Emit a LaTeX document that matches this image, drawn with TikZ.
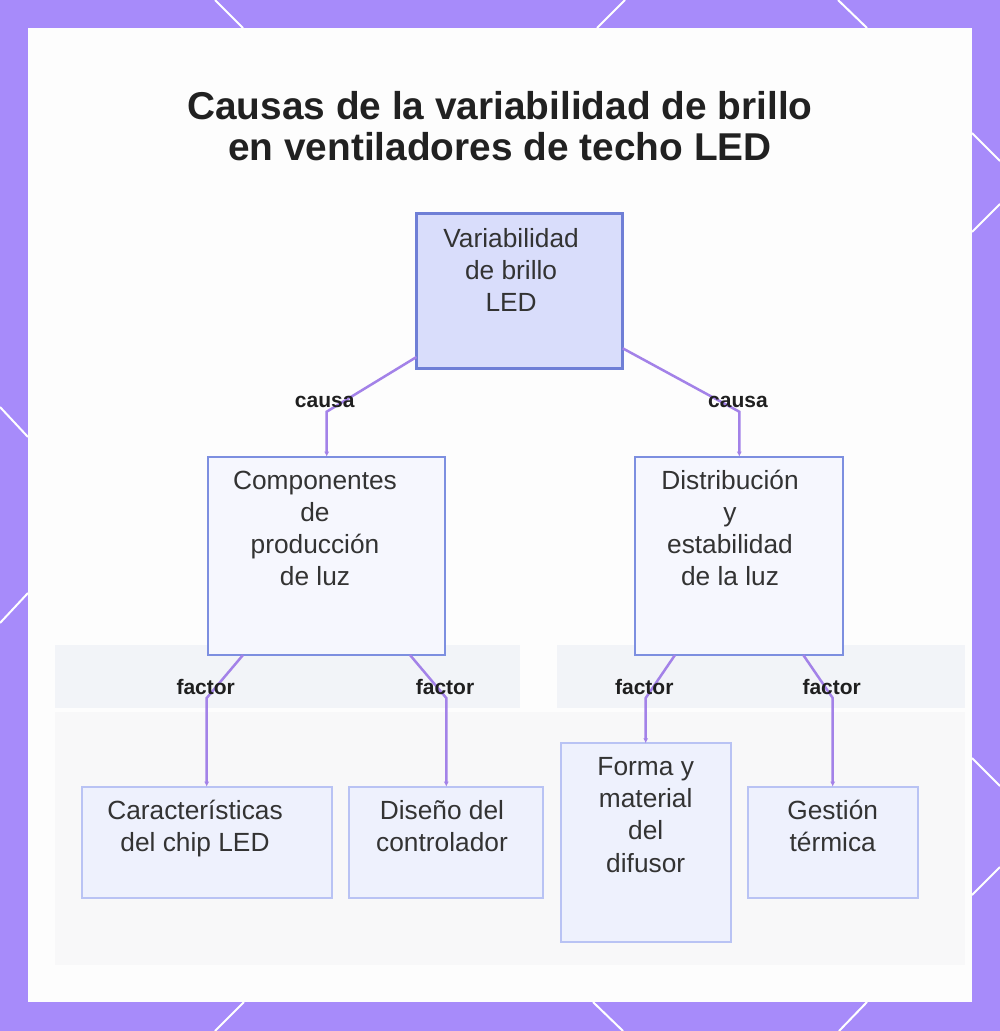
\documentclass[tikz,border=0pt]{standalone}
\usepackage{fontspec}
\setmainfont{Liberation Sans}
\usetikzlibrary{arrows.meta,calc}
\definecolor{frame}{HTML}{A78BFA}
\definecolor{panel}{HTML}{FDFDFD}
\definecolor{titlec}{HTML}{212121}
\definecolor{txt}{HTML}{333333}
\definecolor{fA}{HTML}{D9DDFB}
\definecolor{bA}{HTML}{6F7FD6}
\definecolor{fB}{HTML}{F6F7FE}
\definecolor{bB}{HTML}{7D8FE0}
\definecolor{fC}{HTML}{EEF1FD}
\definecolor{bC}{HTML}{B9C3F4}
\definecolor{ec}{HTML}{A382E8}
\definecolor{lblc}{HTML}{1F1F1F}
\definecolor{bandc}{HTML}{F2F4F8}
\definecolor{softc}{HTML}{F8F8F9}
% width, height, first-baseline offset, left shift*2, baselineskip, text
\newcommand{\bxt}[6]{\begin{minipage}[c][#2pt][t]{#1pt}\centering\rightskip=#4pt plus 1fil\relax\parindent=0pt\baselineskip=#5pt\relax\vspace*{\dimexpr#3pt-30pt\relax}\rule{0pt}{30pt}#6\par\end{minipage}}
\tikzset{
  lvlA/.style={draw=bA, fill=fA, line width=2.5pt, inner sep=0pt, outer sep=0pt, text=txt, font=\fontsize{26.3pt}{32pt}\selectfont},
  lvlB/.style={draw=bB, fill=fB, line width=2pt, inner sep=0pt, outer sep=0pt, text=txt, font=\fontsize{26.3pt}{32pt}\selectfont},
  lvlC/.style={draw=bC, fill=fC, line width=2pt, inner sep=0pt, outer sep=0pt, text=txt, font=\fontsize{26.3pt}{32pt}\selectfont},
  edge/.style={draw=ec, line width=2.5pt, -{Latex[length=5pt,width=5pt]}},
  lbl/.style={font=\bfseries\fontsize{21pt}{24pt}\selectfont, text=lblc, inner sep=0pt},
  titlestyle/.style={inner sep=0pt, text=titlec, font=\bfseries\fontsize{38.8pt}{41pt}\selectfont},
  frameline/.style={draw=white, line width=2pt}
}
\begin{document}
\begin{tikzpicture}[x=1pt,y=-1pt]
\useasboundingbox (0,0) rectangle (1000,1031);
\fill[frame] (0,0) rectangle (1000,1031);
% decorative white lines in the frame
\draw[frameline] (215,0) -- (243,28);
\draw[frameline] (625,0) -- (597,28);
\draw[frameline] (838,0) -- (867,28);
\draw[frameline] (972,133) -- (1000,161);
\draw[frameline] (972,232) -- (1000,204);
\draw[frameline] (972,758) -- (1000,786);
\draw[frameline] (972,895) -- (1000,867);
\draw[frameline] (244,1002) -- (215,1031);
\draw[frameline] (593,1002) -- (623,1031);
\draw[frameline] (867,1002) -- (839,1031);
\draw[frameline] (0,407) -- (28,437);
\draw[frameline] (0,623) -- (28,593);
% panel
\fill[panel] (28,28) rectangle (972,1002);
\fill[softc] (55,712) rectangle (965,965);
\fill[bandc] (55,645) rectangle (520,708);
\fill[bandc] (557,645) rectangle (965,708);
% title
\node[titlestyle] (title) at (500,125) {\bxt{900}{90}{39.5}{0}{41}{Causas de la variabilidad de brillo\\en ventiladores de techo LED}};
% boxes
\node[lvlA] (top) at (519.6,290.8) {\bxt{206.2}{155}{34}{17}{32}{Variabilidad\\de brillo\\LED}};
\node[lvlB] (comp) at (326.7,555.85) {\bxt{236.6}{198.3}{33}{23.4}{32}{Componentes\\de\\producción\\de luz}};
\node[lvlB] (dist) at (739.3,555.85) {\bxt{208}{198.3}{33}{18.6}{32}{Distribución\\y\\estabilidad\\de la luz}};
\node[lvlC] (chip) at (206.7,842.5) {\bxt{250}{111.6}{33}{23.4}{32}{Características\\del chip LED}};
\node[lvlC] (ctrl) at (446.3,842.5) {\bxt{194}{111.6}{33}{8.6}{32}{Diseño del\\controlador}};
\node[lvlC] (difu) at (645.7,842.5) {\bxt{170}{198.4}{32}{0}{32.3}{Forma y\\material\\del\\difusor}};
\node[lvlC] (term) at (832.7,842.5) {\bxt{170}{111.6}{33}{0}{32}{Gestión\\térmica}};
% connectors
\draw[edge] ([yshift=11.3pt]top.south west) -- ([yshift=45pt]comp.north) node[lbl, xshift=-2pt, yshift=10pt] {causa} -- (comp.north);
\draw[edge] ([yshift=20pt]top.south east) -- ([yshift=45pt]dist.north) node[lbl, xshift=-1.3pt, yshift=10pt] {causa} -- (dist.north);
\draw[edge] ([xshift=34.6pt]comp.south west) -- ([yshift=88.7pt]chip.north) node[lbl, xshift=-1pt, yshift=11.5pt] {factor} -- (chip.north);
\draw[edge] ([xshift=-35pt]comp.south east) -- ([yshift=88.7pt]ctrl.north) node[lbl, xshift=-1.3pt, yshift=11.5pt] {factor} -- (ctrl.north);
\draw[edge] ([xshift=39.7pt]dist.south west) -- ([yshift=45.3pt]difu.north) node[lbl, xshift=-1.4pt, yshift=11.5pt] {factor} -- (difu.north);
\draw[edge] ([xshift=-40pt]dist.south east) -- ([yshift=88.7pt]term.north) node[lbl, xshift=-1pt, yshift=11.5pt] {factor} -- (term.north);
\end{tikzpicture}
\end{document}
